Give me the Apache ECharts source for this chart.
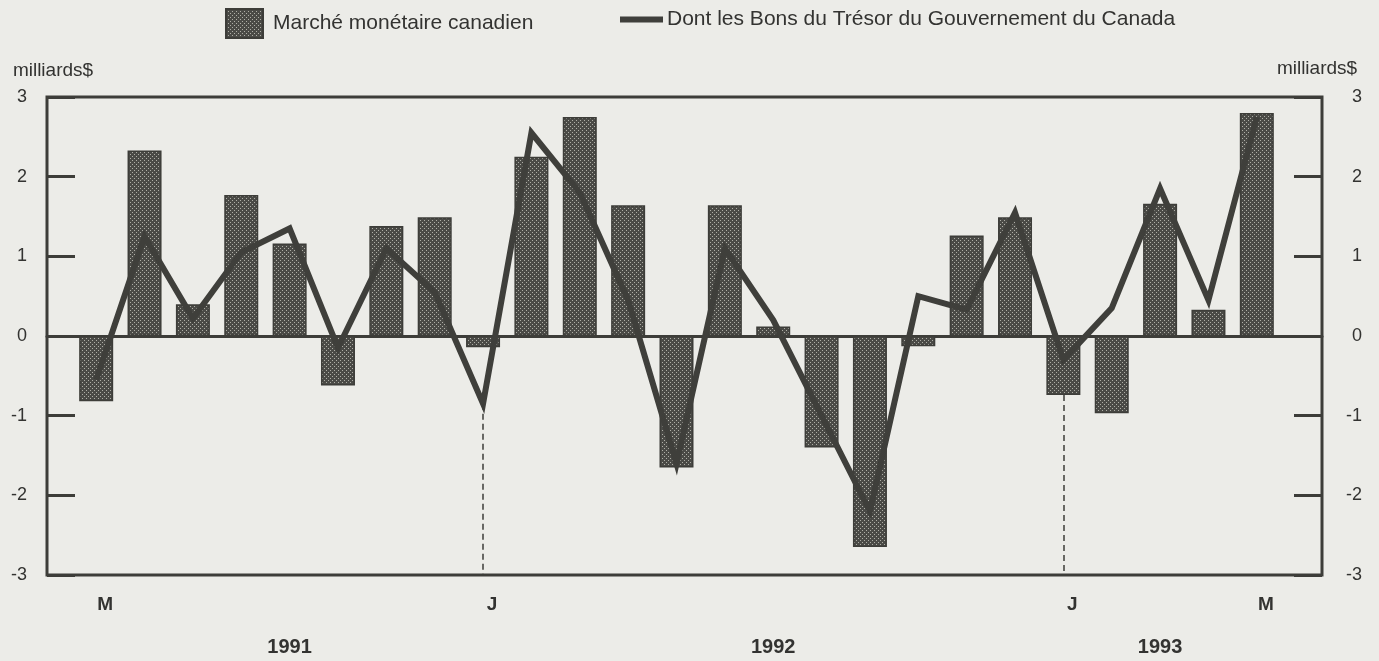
<!DOCTYPE html>
<html>
<head>
<meta charset="utf-8">
<script src="https://cdn.jsdelivr.net/npm/echarts@6/dist/echarts.min.js"></script>
<style>
html,body{margin:0;padding:0;background:#ecece8;}
#chart{width:1379px;height:661px;}
</style>
</head>
<body>
<div id="chart"></div>
<script>
// Months from May 1991 to May 1993
const categories = ['1991-05','1991-06','1991-07','1991-08','1991-09','1991-10','1991-11','1991-12',
  '1992-01','1992-02','1992-03','1992-04','1992-05','1992-06','1992-07','1992-08','1992-09','1992-10','1992-11','1992-12',
  '1993-01','1993-02','1993-03','1993-04','1993-05'];
const tickLabels = ['M','','','','','','','','J','','','','','','','','','','','','J','','','','M'];
const marcheMonetaire = [-0.82, 2.33, 0.40, 1.77, 1.16, -0.62, 1.38, 1.49, -0.14, 2.25, 2.75, 1.64, -1.65,
  1.64, 0.12, -1.40, -2.65, -0.13, 1.26, 1.49, -0.74, -0.97, 1.66, 0.33, 2.80];
const bonsTresor = [-0.55, 1.25, 0.22, 1.05, 1.35, -0.15, 1.10, 0.55, -0.85, 2.55, 1.80, 0.45, -1.60,
  1.10, 0.20, -1.00, -2.20, 0.50, 0.33, 1.55, -0.30, 0.35, 1.85, 0.45, 2.75];
const yTickValues = [-3, -2, -1, 0, 1, 2, 3];

const dark = '#3d3d39';
const textColor = '#333331';

// stipple pattern for bars
const pat = document.createElement('canvas');
pat.width = 4; pat.height = 4;
const pc = pat.getContext('2d');
pc.fillStyle = '#4a4a46'; pc.fillRect(0,0,4,4);
pc.fillStyle = '#aeaea6';
pc.fillRect(0,0,1,1); pc.fillRect(2,2,1,1);

// year labels at the middle month of each year's run
const yearMid = {};
(function(){
  const runs = {};
  categories.forEach((c,i)=>{const y=c.slice(0,4); (runs[y]=runs[y]||[]).push(i);});
  Object.keys(runs).forEach(y=>{const r=runs[y]; yearMid[Math.ceil((r[0]+r[r.length-1])/2)] = y;});
})();

// dashed lines at January months
const janLines = [];
categories.forEach((c,i)=>{
  if (c.endsWith('-01')) {
    const low = Math.min(marcheMonetaire[i], bonsTresor[i], 0);
    janLines.push([{coord:[c, low]}, {coord:[c, -3]}]);
  }
});

const chart = echarts.init(document.getElementById('chart'));
chart.setOption({
  backgroundColor: '#ecece8',
  animation: false,
  textStyle: {fontFamily: 'Liberation Sans, Arial, sans-serif', color: textColor},
  legend: [
    {data:['Marché monétaire canadien'], left: 225, top: 8, padding: 0, icon:'rect', itemWidth: 37, itemHeight: 29, itemGap: 10,
     textStyle:{fontSize: 21, color: textColor, padding:[0,0,0,5]}},
    {data:['Dont les Bons du Trésor du Gouvernement du Canada'], left: 620, top: 9, padding: 0, icon:'rect', itemWidth: 43, itemHeight: 6,
     textStyle:{fontSize: 21, color: textColor, padding:[0,0,0,-1]}}
  ],
  grid: [
    {left: 47, right: 57, top: 97, bottom: 86, show: true, borderColor: dark, borderWidth: 3, backgroundColor: 'transparent'},
    {left: 72, right: 98, top: 97, bottom: 86}
  ],
  xAxis: [
    {gridIndex: 0, type: 'value', min: 0, max: 1, axisLine: {show: true, onZero: true, lineStyle: {color: dark, width: 3}},
     axisTick: {show: false}, axisLabel: {show: false}, splitLine: {show: false}},
    {gridIndex: 1, type: 'category', data: categories, position: 'bottom',
     axisLine: {show: false, onZero: false}, axisTick: {show: false}, splitLine: {show: false},
     axisLabel: {interval: 0, margin: 20, fontSize: 19, fontWeight: 'bold', color: textColor, padding: [0,0,0,18],
       formatter: (v, i) => tickLabels[i]}},
    {gridIndex: 1, type: 'category', data: categories, position: 'bottom', offset: 42,
     axisLine: {show: false, onZero: false}, axisTick: {show: false}, splitLine: {show: false},
     axisLabel: {interval: 0, margin: 20, fontSize: 20, fontWeight: 'bold', color: textColor,
       formatter: (v, i) => yearMid[i] || ''}}
  ],
  yAxis: [
    {gridIndex: 0, type: 'value', position: 'left', min: yTickValues[0], max: yTickValues[yTickValues.length-1], interval: 1,
     axisLine: {show: false}, splitLine: {show: false},
     axisTick: {show: true, inside: true, length: 28, lineStyle: {color: dark, width: 3}},
     axisLabel: {margin: 20, fontSize: 18, color: textColor},
     name: 'milliards$', nameLocation: 'end', nameGap: 17, nameTextStyle: {fontSize: 19, color: textColor, padding: [0,0,0,12]}},
    {gridIndex: 0, type: 'value', position: 'right', min: yTickValues[0], max: yTickValues[yTickValues.length-1], interval: 1,
     axisLine: {show: false}, splitLine: {show: false},
     axisTick: {show: true, inside: true, length: 28, lineStyle: {color: dark, width: 3}},
     axisLabel: {margin: 40, align: 'right', fontSize: 18, color: textColor},
     name: 'milliards$', nameLocation: 'end', nameGap: 19, nameTextStyle: {fontSize: 19, color: textColor, padding: [0,10,0,0]}},
    {gridIndex: 1, type: 'value', min: yTickValues[0], max: yTickValues[yTickValues.length-1], show: false}
  ],
  series: [
    {name: 'Marché monétaire canadien', type: 'bar', xAxisIndex: 1, yAxisIndex: 2, data: marcheMonetaire,
     barWidth: 34, itemStyle: {color: {image: pat, repeat: 'repeat'}, borderColor: dark, borderWidth: 1.5}, z: 2},
    {name: 'Dont les Bons du Trésor du Gouvernement du Canada', type: 'line', xAxisIndex: 1, yAxisIndex: 2, data: bonsTresor,
     symbol: 'none', itemStyle: {color: '#3f3f3b'},
     lineStyle: {color: '#3f3f3b', width: 6, join: 'miter', miterLimit: 6}, z: 3,
     markLine: {silent: true, symbol: 'none', label: {show: false},
       lineStyle: {color: dark, type: [6, 4], width: 1.5}, data: janLines}}
  ]
});
</script>
</body>
</html>
